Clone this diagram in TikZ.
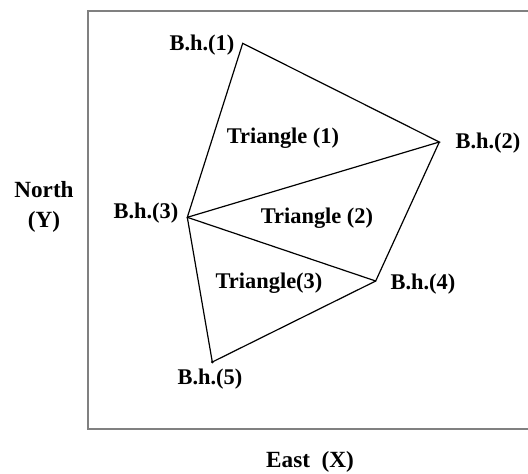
\documentclass[tikz,border=0pt]{standalone}
\usepackage{fontspec}
\setmainfont{Liberation Serif}
\usepackage{tikz}
\usetikzlibrary{positioning}

\tikzset{
    bhlabel/.style={font=\fontsize{11.2}{13}\selectfont\bfseries, inner sep=0pt},
    trilabel/.style={font=\fontsize{11.2}{13}\selectfont\bfseries, inner sep=0pt},
    axislabel/.style={font=\fontsize{11.6}{15}\selectfont\bfseries, inner sep=0pt, align=center},
    side/.style={black, line width=0.6pt, line join=miter}
}

\begin{document}
\begin{tikzpicture}[x=0.5pt, y=-0.5pt]
        \clip (0,0) rectangle (528,473);
        % Frame
        \draw[gray, line width=1pt] (87.5,11) rectangle (560,429);

        % Bore holes
        \coordinate (bh1) at (242.7,43.3);
        \coordinate (bh2) at (439.3,142);
        \coordinate (bh3) at (187.3,217.3);
        \coordinate (bh4) at (375.7,281);
        \coordinate (bh5) at (212.3,362);

        % Labels
        \node[bhlabel] (l1) at (202,45) {B.h.(1)};
        \node[bhlabel] (l2) at (488,143) {B.h.(2)};
        \node[bhlabel] (l3) at (146,213) {B.h.(3)};
        \node[bhlabel] (l4) at (423,284) {B.h.(4)};
        \node[bhlabel] (l5) at (210,379) {B.h.(5)};

        \node[trilabel] (t1) at (283,138) {Triangle (1)};
        \node[trilabel] (t2) at (317,218) {Triangle (2)};
        \node[trilabel] (t3) at (269,283) {Triangle(3)};

        \node[axislabel] (north) at (44,207) {North\\(Y)};
        \node[axislabel] (east) at (310,462) {East\ \ (X)};

        % Sides
        \draw[side] (bh1) -- (bh2) -- (bh3) -- cycle;
        \draw[side] (bh2) -- (bh4) -- (bh3);
        \draw[side] (bh4) -- (bh5) -- (bh3);
        \fill (bh5) circle (1.5);
\end{tikzpicture}
\end{document}
